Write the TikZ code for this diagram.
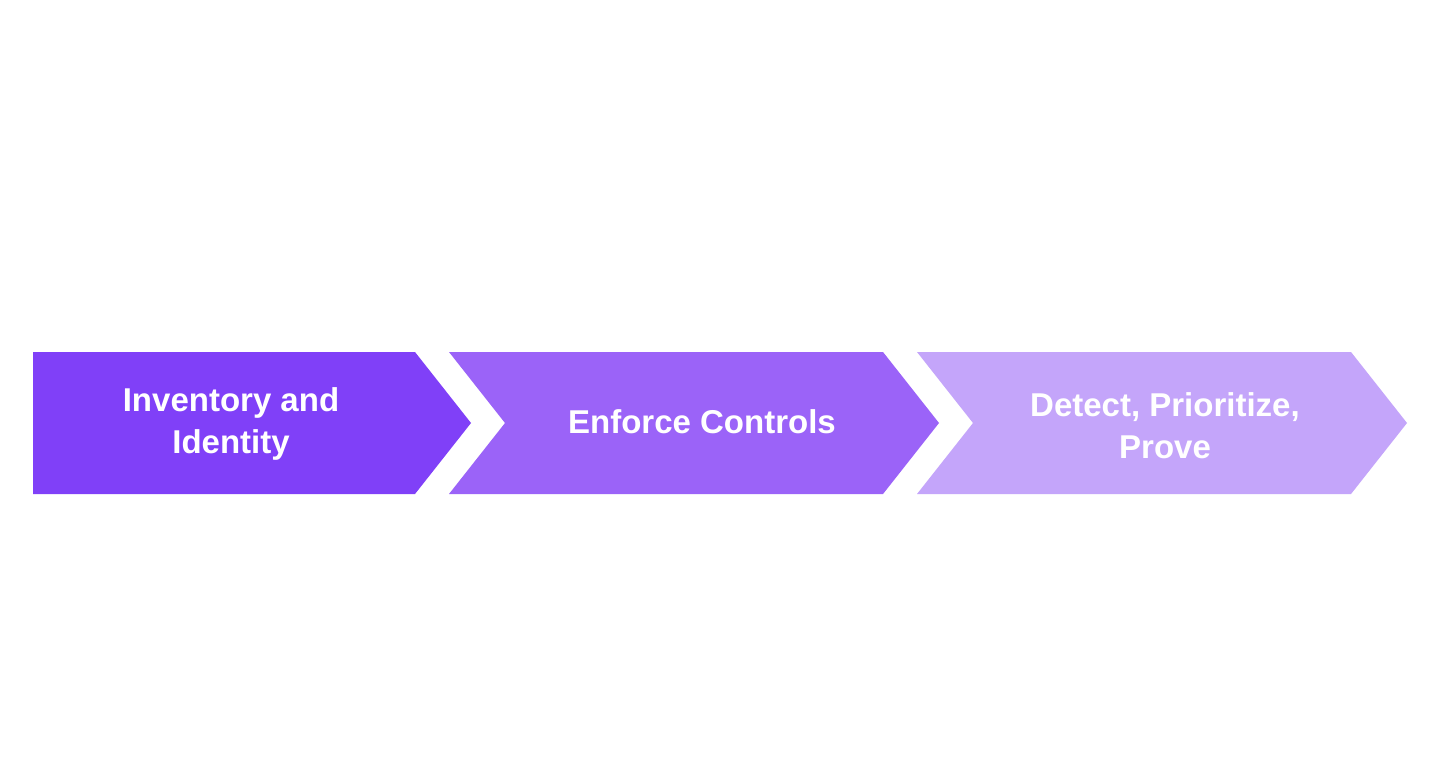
\documentclass[tikz,border=0pt]{standalone}
\usepackage{fontspec}
\setmainfont{Liberation Sans}
\definecolor{chevA}{RGB}{128,64,248}
\definecolor{chevB}{RGB}{155,99,248}
\definecolor{chevC}{RGB}{196,165,250}
\tikzset{
  label/.style={text=white, align=center, font=\bfseries\fontsize{33}{42}\selectfont, inner sep=0pt}
}
\begin{document}
\begin{tikzpicture}[x=1pt,y=-1pt]
\useasboundingbox[fill=white] (0,0) rectangle (1440,773);
\fill[chevA] (33,352) -- (415,352) -- (471,423) -- (415,494) -- (33,494) -- cycle;
\fill[chevB] (449,352) -- (883,352) -- (939,423) -- (883,494) -- (449,494) -- (505,423) -- cycle;
\fill[chevC] (917,352) -- (1351,352) -- (1407,423) -- (1351,494) -- (917,494) -- (973,423) -- cycle;
\node[label] (s1) at (231,424) {Inventory and\\Identity};
\node[label] (s2) at (702,422) {Enforce Controls};
\node[label] (s3) at (1165,426) {Detect, Prioritize,\\Prove};
\end{tikzpicture}
\end{document}
